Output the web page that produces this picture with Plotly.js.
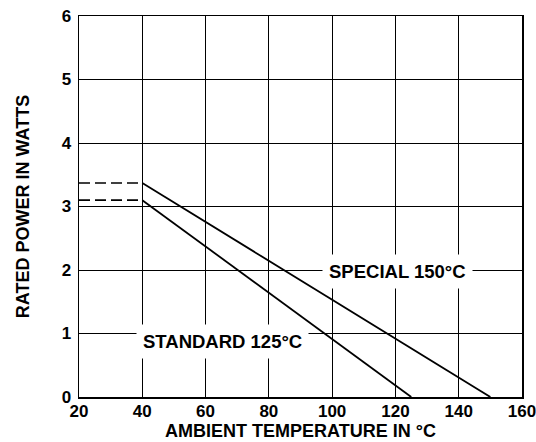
<!DOCTYPE html>
<html>
<head>
<meta charset="utf-8">
<script src="https://cdn.plot.ly/plotly-3.0.1.min.js"></script>
<style>html,body{margin:0;padding:0;background:#fff;}#chart{width:536px;height:442px;}</style>
</head>
<body>
<div id="chart"></div>
<script>
// Data
const standardTemp = [40, 125];
const standardPower = [3.1, 0];
const specialTemp = [40, 150];
const specialPower = [3.37, 0];
const dashTemp = [20, 40];
const standardDashPower = [3.1, 3.1];
const specialDashPower = [3.37, 3.37];
const xTicks = [20, 40, 60, 80, 100, 120, 140, 160];
const yTicks = [0, 1, 2, 3, 4, 5, 6];
const labels = [
  {text: "STANDARD 125°C", x: 65.3, y: 0.88},
  {text: "SPECIAL 150°C", x: 120.6, y: 1.97}
];

const font = {family: "Arial", color: "#000", weight: 700};

const traces = [
  {x: standardTemp, y: standardPower, mode: "lines", line: {color: "#000", width: 1.8}, hoverinfo: "skip"},
  {x: specialTemp, y: specialPower, mode: "lines", line: {color: "#000", width: 1.8}, hoverinfo: "skip"},
  {x: dashTemp, y: standardDashPower, mode: "lines", line: {color: "#000", width: 1.6, dash: "11px,5px"}, hoverinfo: "skip"},
  {x: dashTemp, y: specialDashPower, mode: "lines", line: {color: "#000", width: 1.6, dash: "11px,5px"}, hoverinfo: "skip"}
];

const annotations = labels.map(l => ({
  text: l.text, x: l.x, y: l.y, xref: "x", yref: "y", showarrow: false,
  font: Object.assign({}, font, {size: 18.5}), bgcolor: "#fff", borderpad: 6
}));

const layout = {
  width: 536, height: 442,
  margin: {l: 79, r: 14, t: 16, b: 45},
  paper_bgcolor: "#fff", plot_bgcolor: "#fff",
  showlegend: false,
  font: font,
  xaxis: {
    range: [20, 160], tickvals: xTicks, ticktext: xTicks.map(String),
    showgrid: true, gridcolor: "#000", gridwidth: 1,
    showline: true, mirror: true, linecolor: "#000", linewidth: 1.5,
    zeroline: false, ticks: "", tickfont: Object.assign({}, font, {size: 17}),
    ticklabeloverflow: "allow", ticklabelstandoff: -2,
    title: {text: "AMBIENT TEMPERATURE IN °C", font: Object.assign({}, font, {size: 18}), standoff: 2}
  },
  yaxis: {
    range: [0, 6], tickvals: yTicks, ticktext: yTicks.map(String),
    showgrid: true, gridcolor: "#000", gridwidth: 1,
    showline: true, mirror: true, linecolor: "#000", linewidth: 1.5,
    zeroline: false, ticks: "", tickfont: Object.assign({}, font, {size: 17}),
    ticklabelstandoff: 3,
    title: {text: "RATED POWER IN WATTS", font: Object.assign({}, font, {size: 18}), standoff: 27}
  },
  annotations: annotations
};

Plotly.newPlot("chart", traces, layout, {staticPlot: true, displayModeBar: false});
</script>
</body>
</html>
